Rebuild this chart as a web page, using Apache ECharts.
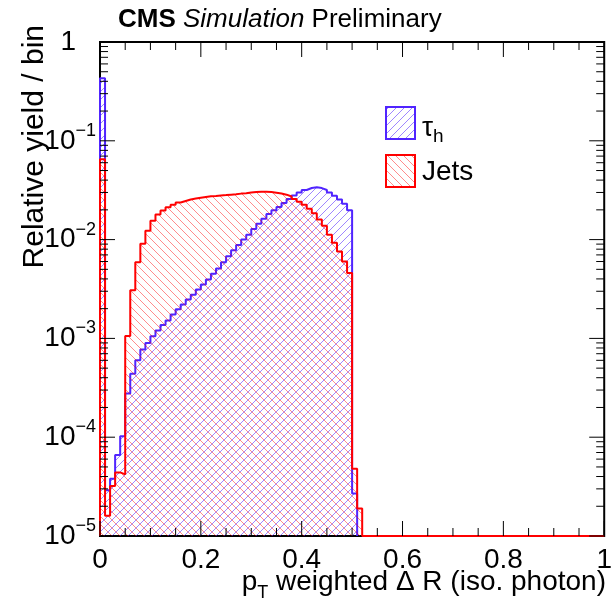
<!DOCTYPE html>
<html>
<head>
<meta charset="utf-8">
<script src="https://cdn.jsdelivr.net/npm/echarts@6/dist/echarts.min.js"></script>
<style>html,body{margin:0;padding:0;background:#fff}#c{width:615px;height:606px}</style>
</head>
<body>
<div id="c"></div>
<script>
// ---- data ----
const xMin = 0, xMax = 1, yMin = 1e-5, yMax = 1;
const binWidth = 0.01;
// tau_h histogram, bins of width 0.01 starting at 0
const tauValues = [
  0.43, 2.9e-5, 3.8e-5, 6.6e-5, 1.02e-4, 2.77e-4, 4.4e-4, 6.0e-4, 7.7e-4, 9.0e-4,
  1.05e-3, 1.2e-3, 1.37e-3, 1.52e-3, 1.75e-3, 1.97e-3, 2.2e-3, 2.48e-3, 2.77e-3, 3.13e-3,
  3.52e-3, 3.95e-3, 4.5e-3, 5.1e-3, 5.9e-3, 6.8e-3, 7.8e-3, 8.8e-3, 1.0e-2, 1.12e-2,
  1.28e-2, 1.45e-2, 1.63e-2, 1.82e-2, 1.98e-2, 2.14e-2, 2.35e-2, 2.58e-2, 2.8e-2, 3.0e-2,
  3.18e-2, 3.33e-2, 3.38e-2, 3.32e-2, 3.18e-2, 3.0e-2, 2.78e-2, 2.55e-2, 2.3e-2, 1.98e-2,
  2.7e-5
];
// jets histogram
const jetValues = [
  0.065, 1.6e-5, 3.2e-5, 4.4e-5, 4.2e-5, 1.06e-3, 3.07e-3, 5.9e-3, 9.1e-3, 1.23e-2,
  1.55e-2, 1.79e-2, 1.97e-2, 2.13e-2, 2.25e-2, 2.37e-2, 2.46e-2, 2.55e-2, 2.6e-2, 2.65e-2,
  2.7e-2, 2.75e-2, 2.77e-2, 2.8e-2, 2.82e-2, 2.85e-2, 2.88e-2, 2.92e-2, 2.95e-2, 2.99e-2,
  3.03e-2, 3.05e-2, 3.05e-2, 3.03e-2, 2.98e-2, 2.93e-2, 2.85e-2, 2.73e-2, 2.58e-2, 2.42e-2,
  2.25e-2, 2.05e-2, 1.85e-2, 1.6e-2, 1.38e-2, 1.12e-2, 9.3e-3, 7.6e-3, 6.0e-3, 4.6e-3,
  4.8e-5, 1.9e-5
];
const xTickValues = [0, 0.2, 0.4, 0.6, 0.8, 1];
const xTickLabels = ['0', '0.2', '0.4', '0.6', '0.8', '1'];
const xMinorStep = 0.05;
const yDecades = [1e-5, 1e-4, 1e-3, 1e-2, 1e-1, 1];
const yLabelExp = ['−5', '−4', '−3', '−2', '−1', ''];
const legendNames = ['τ', 'Jets'];
const colTau = '#5024ff', colJet = '#ff0000';
const FONT = '"Liberation Sans", Arial, Helvetica, sans-serif';

function hatch(color, dir) {
  const s = 8;
  const c = document.createElement('canvas');
  c.width = s; c.height = s;
  const ctx = c.getContext('2d');
  ctx.strokeStyle = color; ctx.lineWidth = 1;
  ctx.beginPath();
  for (const o of [-s, 0, s]) {
    if (dir === '/') { ctx.moveTo(o, s); ctx.lineTo(o + s, 0); }
    else { ctx.moveTo(o, 0); ctx.lineTo(o + s, s); }
  }
  ctx.stroke();
  return { image: c, repeat: 'repeat' };
}
const patTau = hatch('rgba(80,36,255,0.55)', '/');
const patJet = hatch('rgba(255,0,0,0.45)', '\\');

function histLine(vals, extendTo) {
  const pts = [[xMin, yMin]];
  vals.forEach((v, i) => {
    const y = Math.max(v, yMin);
    pts.push([i * binWidth, y], [(i + 1) * binWidth, y]);
  });
  pts.push([vals.length * binWidth, yMin]);
  if (extendTo !== undefined) pts.push([extendTo, yMin]);
  return pts;
}

const chart = echarts.init(document.getElementById('c'), null, { renderer: 'canvas' });

const option = {
  animation: false,
  textStyle: { fontFamily: FONT },
  grid: { left: 100, right: 8, top: 42, bottom: 70, show: true, borderColor: '#000', borderWidth: 2, backgroundColor: 'transparent' },
  xAxis: {
    type: 'value', min: xMin, max: xMax, interval: 0.2,
    axisLine: { show: false }, axisTick: { show: false }, splitLine: { show: false },
    axisLabel: {
      fontSize: 28, color: '#000', fontFamily: FONT, margin: 10,
      formatter: v => { const i = xTickValues.findIndex(t => Math.abs(t - v) < 1e-9); return i >= 0 ? xTickLabels[i] : ''; }
    }
  },
  yAxis: {
    type: 'log', logBase: 10, min: yMin, max: yMax,
    axisLine: { show: false }, axisTick: { show: false }, splitLine: { show: false },
    axisLabel: {
      color: '#000', fontFamily: FONT, margin: 4,
      formatter: v => {
        const i = yDecades.findIndex(t => Math.abs(Math.log10(t) - Math.log10(v)) < 1e-6);
        if (i < 0) return '';
        if (yLabelExp[i] === '') return '{one|1}';
        return '{m|10}{s|' + yLabelExp[i] + '}';
      },
      rich: {
        m: { fontSize: 28, lineHeight: 38, fontFamily: FONT, color: '#000' },
        s: { fontSize: 18, lineHeight: 18, verticalAlign: 'top', fontFamily: FONT, color: '#000' },
        one: { fontSize: 28, lineHeight: 38, fontFamily: FONT, color: '#000', padding: [0, 20, 0, 0] }
      }
    }
  },
  series: [
    {
      name: 'tau', type: 'line', data: histLine(tauValues), showSymbol: false, symbol: 'none',
      clip: false, z: 2,
      lineStyle: { color: colTau, width: 2 },
      areaStyle: { color: patTau, origin: 'start', opacity: 1 }
    },
    {
      name: 'jets', type: 'line', data: histLine(jetValues, xMax), showSymbol: false, symbol: 'none',
      clip: false, z: 3,
      lineStyle: { color: colJet, width: 2 },
      areaStyle: { color: patJet, origin: 'start', opacity: 1 }
    },
    {
      type: 'custom', z: 10, silent: true, clip: false,
      data: [[0, 1]],
      renderItem: (params, api) => {
        const ch = [];
        const L = (x1, y1, x2, y2) => ch.push({ type: 'line', shape: { x1, y1, x2, y2 }, style: { stroke: '#000', lineWidth: 1 } });
        const nMinor = Math.round((xMax - xMin) / xMinorStep);
        for (let i = 0; i <= nMinor; i++) {
          const t = xMin + i * xMinorStep;
          const major = xTickValues.some(m => Math.abs(m - t) < 1e-9);
          const len = major ? 15 : 8;
          const b = api.coord([t, yMin]), tp = api.coord([t, yMax]);
          L(b[0], b[1], b[0], b[1] - len);
          L(tp[0], tp[1], tp[0], tp[1] + len);
        }
        for (let d = 0; d < yDecades.length; d++) {
          const dec = yDecades[d];
          for (let m = 1; m <= 9; m++) {
            const v = dec * m;
            if (v > yMax * 1.0001) break;
            const len = m === 1 ? 15 : 8;
            const l = api.coord([xMin, v]), r = api.coord([xMax, v]);
            L(l[0], l[1], l[0] + len, l[1]);
            L(r[0], r[1], r[0] - len, r[1]);
          }
        }
        return { type: 'group', children: ch };
      }
    }
  ],
  graphic: [
    {
      type: 'text', x: 118, y: 20,
      style: {
        text: '{b|CMS}{n| }{i|Simulation}{n| }{n|Preliminary}',
        verticalAlign: 'middle', align: 'left',
        rich: {
          b: { fontSize: 26, fontWeight: 'bold', fontFamily: FONT, fill: '#000' },
          i: { fontSize: 26, fontStyle: 'italic', fontFamily: FONT, fill: '#000' },
          n: { fontSize: 26, fontFamily: FONT, fill: '#000' }
        }
      }
    },
    {
      type: 'text', x: 35, y: 25, rotation: Math.PI / 2,
      style: { text: 'Relative yield / bin', fontSize: 30, fontFamily: FONT, fill: '#000', align: 'right', verticalAlign: 'middle' }
    },
    {
      type: 'text', x: 606, y: 582,
      style: {
        text: '{m|p}{s|T}{m| weighted Δ R (iso. photon)}',
        align: 'right', verticalAlign: 'middle',
        rich: {
          m: { fontSize: 28, lineHeight: 40, fontFamily: FONT, fill: '#000' },
          s: { fontSize: 18, lineHeight: 18, verticalAlign: 'bottom', fontFamily: FONT, fill: '#000' }
        }
      }
    },
    {
      type: 'rect', shape: { x: 386, y: 107, width: 29, height: 32 },
      style: { fill: patTau, stroke: colTau, lineWidth: 2 }
    },
    {
      type: 'rect', shape: { x: 386, y: 155, width: 29, height: 32 },
      style: { fill: patJet, stroke: colJet, lineWidth: 2 }
    },
    {
      type: 'text', x: 422, y: 128,
      style: {
        text: '{m|' + legendNames[0] + '}{s|h}', align: 'left', verticalAlign: 'middle',
        rich: {
          m: { fontSize: 28, lineHeight: 36, fontFamily: FONT, fill: '#000' },
          s: { fontSize: 19, lineHeight: 19, verticalAlign: 'bottom', fontFamily: FONT, fill: '#000' }
        }
      }
    },
    {
      type: 'text', x: 422, y: 172,
      style: { text: legendNames[1], fontSize: 28, fontFamily: FONT, fill: '#000', align: 'left', verticalAlign: 'middle' }
    }
  ]
};
chart.setOption(option);
</script>
</body>
</html>
